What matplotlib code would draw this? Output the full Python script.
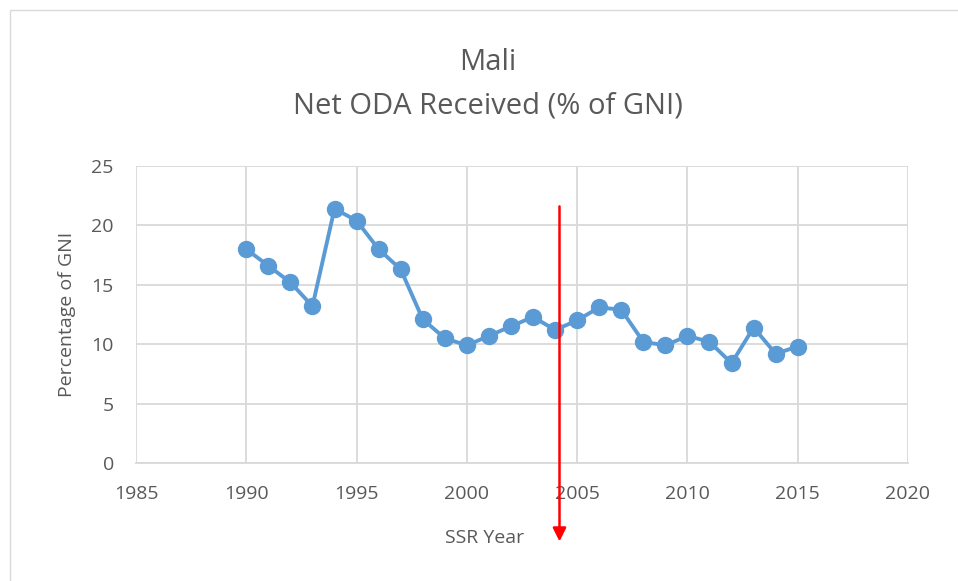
import matplotlib
matplotlib.use("Agg")
import matplotlib.pyplot as plt
from matplotlib.patches import Rectangle

years = list(range(1990, 2016))
oda_pct_gni = [18.0, 16.6, 15.2, 13.2, 21.4, 20.4, 18.0, 16.3, 12.1, 10.5,
               9.9, 10.7, 11.5, 12.3, 11.2, 12.0, 13.1, 12.9, 10.2, 9.9,
               10.7, 10.2, 8.4, 11.4, 9.2, 9.8]
x_ticks = [1985, 1990, 1995, 2000, 2005, 2010, 2015, 2020]
y_ticks = [0, 5, 10, 15, 20, 25]
ssr_year = 2004.2

plt.rcParams['font.family'] = ['Open Sans', 'DejaVu Sans']
text_color = '#595959'
grid_color = '#d9d9d9'

fig = plt.figure(figsize=(9.58, 5.81), dpi=100)
fig.patches.append(Rectangle((10/958, -0.1), 1.2, 1 - 10/581 + 0.1,
                             transform=fig.transFigure, fill=False,
                             edgecolor='#d9d9d9', linewidth=1))
ax = fig.add_axes([136/958, 1 - 463/581, (908-136)/958, (463-166)/581])

ax.plot(years, oda_pct_gni, color='#5b9bd5', linewidth=2.8, marker='o',
        markersize=11.5, zorder=3)

ax.set_xlim(1985, 2020)
ax.set_ylim(0, 25)
ax.set_xticks(x_ticks)
ax.set_yticks(y_ticks)
ax.grid(True, color=grid_color, linewidth=1.3)
ax.set_axisbelow(True)
for s in ['top', 'right', 'left']:
    ax.spines[s].set_visible(False)
ax.spines['bottom'].set_color(grid_color)
ax.spines['bottom'].set_linewidth(1.3)
ax.tick_params(length=0, labelsize=14, colors=text_color)
ax.tick_params(axis='x', pad=16)
ax.tick_params(axis='y', pad=16)

ax.set_xlabel('SSR Year', fontsize=14, color=text_color)
ax.xaxis.set_label_coords((485 - 136) / 772, (463 - 529) / 297)
ax.set_ylabel('Percentage of GNI', fontsize=14, color=text_color)
ax.yaxis.set_label_coords((76 - 136) / 772, 0.5)

cx = 488 / 958
fig.text(cx, 1 - 62/581, 'Mali', ha='center', va='center',
         fontsize=21, color=text_color)
fig.text(cx, 1 - 106/581, 'Net ODA Received (% of GNI)',
         ha='center', va='center', fontsize=21, color=text_color)

ax.annotate('', xy=(ssr_year, -6.6), xytext=(ssr_year, 21.6),
            xycoords='data', annotation_clip=False,
            arrowprops=dict(arrowstyle='-|>', color='#ff0000', lw=1.8,
                            mutation_scale=20, shrinkA=0, shrinkB=0))

fig.savefig('out.png', dpi=100)
